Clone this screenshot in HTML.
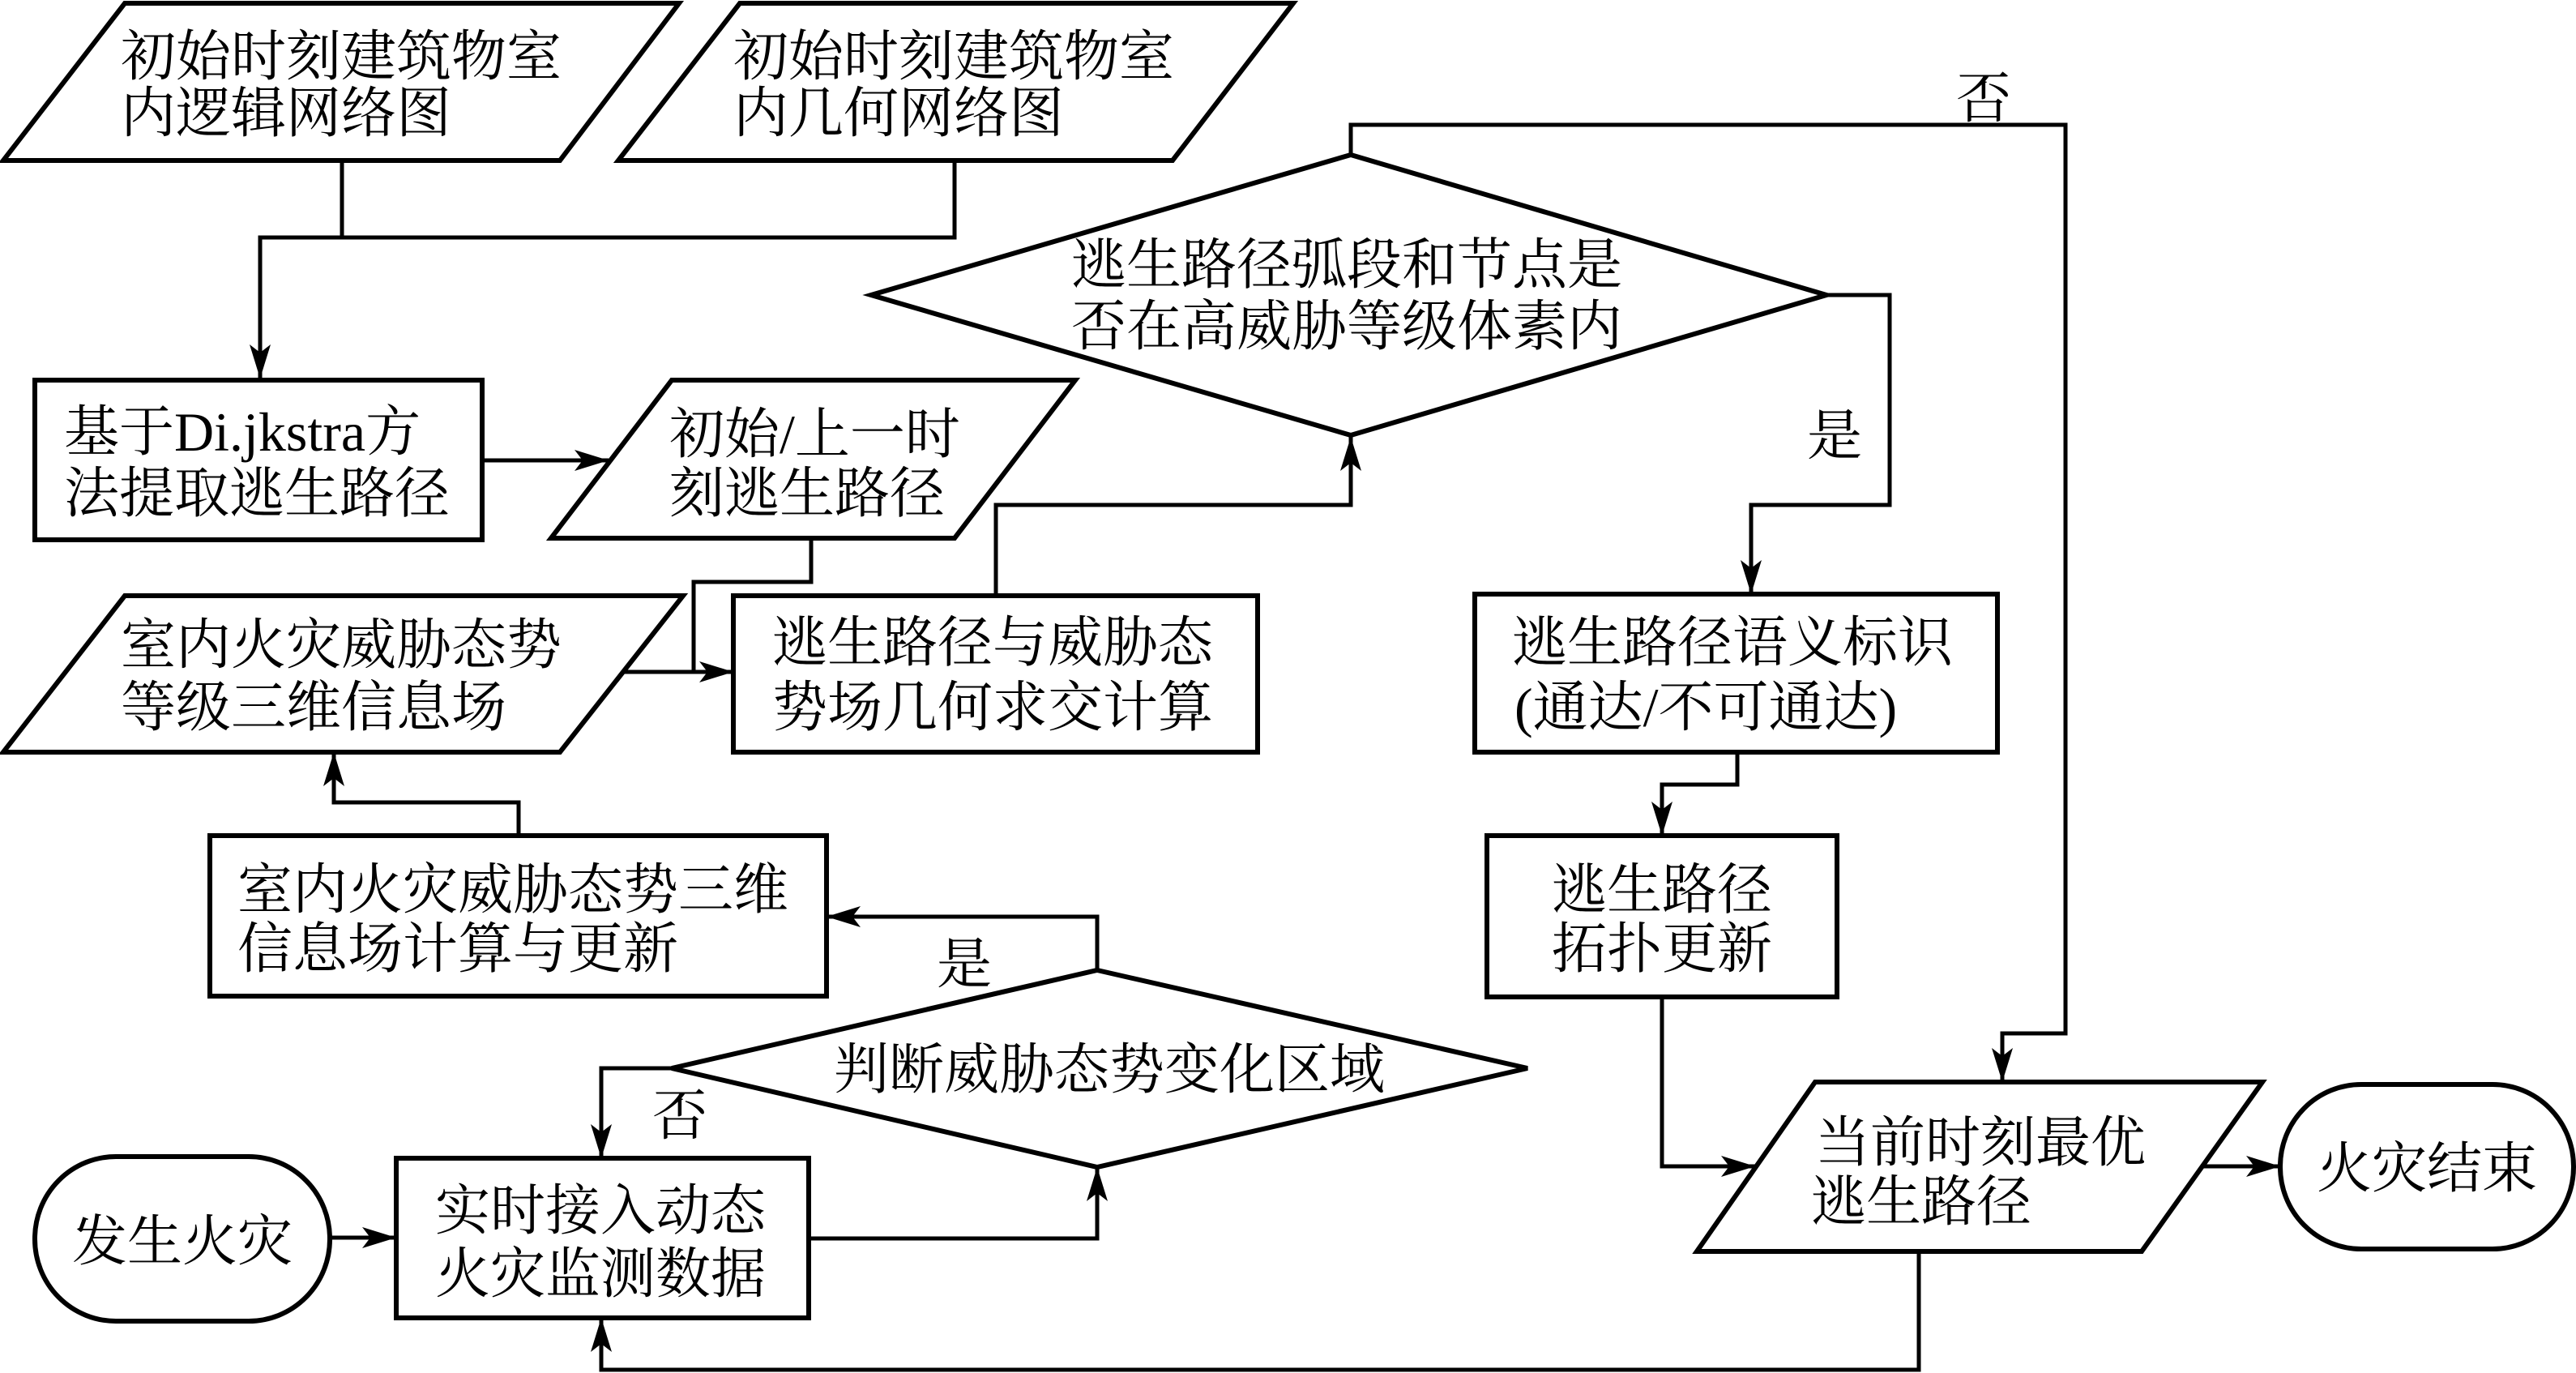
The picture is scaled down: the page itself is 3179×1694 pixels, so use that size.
<!DOCTYPE html>
<html><head><meta charset="utf-8"><style>
html,body{margin:0;padding:0;background:#fff;}
svg{display:block;}
text{font-family:"Liberation Serif","Noto Serif CJK SC",serif;font-size:68px;fill:#000;}
</style></head><body>
<svg width="3179" height="1694" viewBox="0 0 3179 1694" xmlns="http://www.w3.org/2000/svg">
<defs>
<marker id="a" markerUnits="userSpaceOnUse" markerWidth="44" markerHeight="26" refX="42" refY="13" orient="auto">
<path d="M0,0 L42,13 L0,26 L10,13 z" fill="#000"/>
</marker>
</defs>
<g fill="#fff" stroke="#000" stroke-width="6" stroke-linejoin="miter">
<polygon points="154,4 838,4 691,198 4,198"/>
<polygon points="913,4 1596,4 1447,198 763,198"/>
<rect x="43" y="469" width="552" height="197"/>
<polygon points="829,469 1327,469 1178,664 680,664"/>
<polygon points="154,735 843,735 691,928 4,928"/>
<rect x="905" y="735" width="647" height="193"/>
<polygon points="1667,191 2254,364 1667,537 1075,364"/>
<rect x="1820" y="733" width="645" height="195"/>
<rect x="1835" y="1031" width="432" height="199"/>
<rect x="259" y="1031" width="761" height="198"/>
<polygon points="1354,1197 1885,1318 1354,1440 829,1318"/>
<rect x="489" y="1429" width="509" height="197"/>
<rect x="43" y="1427" width="364" height="203" rx="100" ry="101"/>
<polygon points="2240,1335 2792,1335 2643,1544 2094,1544"/>
<rect x="2814" y="1338" width="362" height="203" rx="100" ry="101"/>
</g>
<g fill="none" stroke="#000" stroke-width="5">
<polyline points="422,198 422,293"/>
<polyline points="1178,198 1178,293 321,293 321,467" marker-end="url(#a)"/>
<polyline points="595,568 751,568" marker-end="url(#a)"/>
<polyline points="1001,664 1001,718 856,718 856,829"/>
<polyline points="769,829 905,829" marker-end="url(#a)"/>
<polyline points="1229,735 1229,623 1667,623 1667,539" marker-end="url(#a)"/>
<polyline points="1667,191 1667,154 2549,154 2549,1275 2471,1275 2471,1335" marker-end="url(#a)"/>
<polyline points="2254,364 2332,364 2332,623 2161,623 2161,733" marker-end="url(#a)"/>
<polyline points="2144,928 2144,968 2051,968 2051,1031" marker-end="url(#a)"/>
<polyline points="2051,1230 2051,1439 2166,1439" marker-end="url(#a)"/>
<polyline points="2719,1439 2814,1439" marker-end="url(#a)"/>
<polyline points="2368,1544 2368,1690 742,1690 742,1626" marker-end="url(#a)"/>
<polyline points="407,1527 489,1527" marker-end="url(#a)"/>
<polyline points="998,1528 1354,1528 1354,1440" marker-end="url(#a)"/>
<polyline points="829,1318 742,1318 742,1429" marker-end="url(#a)"/>
<polyline points="1354,1197 1354,1131 1020,1131" marker-end="url(#a)"/>
<polyline points="640,1031 640,990 412,990 412,928" marker-end="url(#a)"/>
</g>
<g>
<text x="149" y="93">初始时刻建筑物室</text>
<text x="149" y="163">内逻辑网络图</text>
<text x="905" y="93">初始时刻建筑物室</text>
<text x="905" y="163">内几何网络图</text>
<text x="79" y="556">基于Di.jkstra方</text>
<text x="79" y="632">法提取逃生路径</text>
<text x="826" y="559">初始/上一时</text>
<text x="826" y="632">刻逃生路径</text>
<text x="1322" y="350">逃生路径弧段和节点是</text>
<text x="1322" y="426">否在高威胁等级体素内</text>
<text x="149" y="819">室内火灾威胁态势</text>
<text x="149" y="896">等级三维信息场</text>
<text x="953" y="816">逃生路径与威胁态</text>
<text x="953" y="896">势场几何求交计算</text>
<text x="1866" y="816">逃生路径语义标识</text>
<text x="1869" y="896">(通达/不可通达)</text>
<text x="1915" y="1121">逃生路径</text>
<text x="1915" y="1194">拓扑更新</text>
<text x="293" y="1121">室内火灾威胁态势三维</text>
<text x="293" y="1194">信息场计算与更新</text>
<text x="1029" y="1343">判断威胁态势变化区域</text>
<text x="537" y="1517">实时接入动态</text>
<text x="537" y="1595">火灾监测数据</text>
<text x="89" y="1555">发生火灾</text>
<text x="2240" y="1433">当前时刻最优</text>
<text x="2235" y="1506">逃生路径</text>
<text x="2859" y="1465">火灾结束</text>
<text x="2414" y="145">否</text>
<text x="2230" y="561">是</text>
<text x="1156" y="1213">是</text>
<text x="805" y="1400">否</text>
</g>
</svg>
</body></html>
